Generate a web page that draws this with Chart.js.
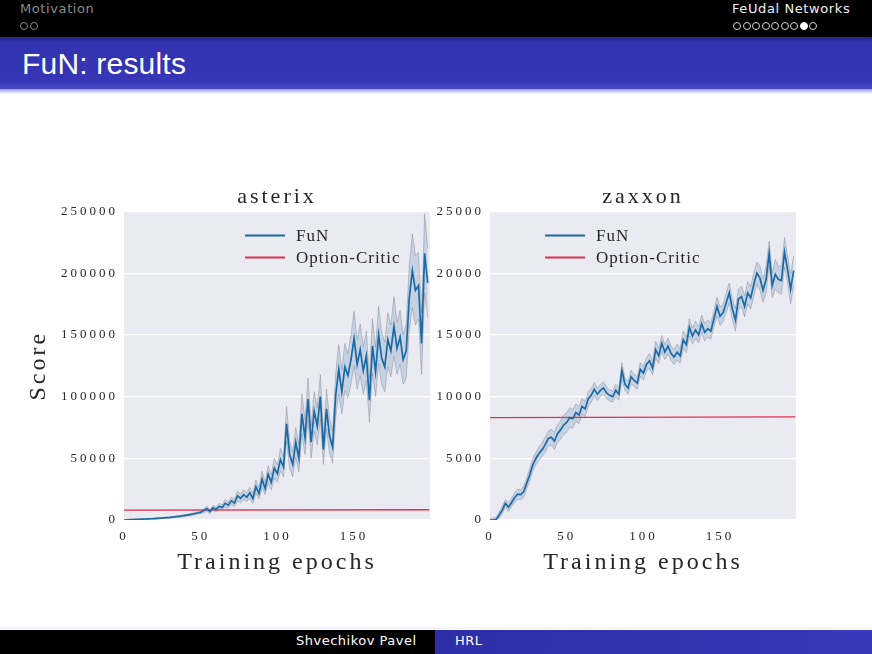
<!DOCTYPE html>
<html>
<head>
<meta charset="utf-8">
<title>FuN: results</title>
<script src="https://cdn.jsdelivr.net/npm/chart.js@4.4.1/dist/chart.umd.min.js"></script>
<style>
    html, body { margin: 0; padding: 0; }
    body {
        width: 872px; height: 654px; position: relative; overflow: hidden;
        background: #fff; font-family: "DejaVu Sans", sans-serif;
    }
    #topbar { position: absolute; left: 0; top: 0; width: 872px; height: 37px; background: #000; }
    .sec { position: absolute; top: 1px; font-size: 13px; letter-spacing: 0.6px; }
    .sec.left { left: 20px; color: #8a8a8a; }
    .sec.right { left: 732px; color: #f0f0f0; }
    .dots { position: absolute; top: 22px; height: 8px; display: flex; }
    .dots.left { left: 20px; }
    .dots.right { left: 733px; }
    .dot {
        width: 6px; height: 6px; border-radius: 50%;
        border: 1px solid #8a8a8a; margin-right: 2px; box-sizing: content-box;
    }
    .dots.right .dot { border-color: #d8d8d8; margin-right: 1.5px; }
    .dots.right .dot.on { background: #fff; border-color: #fff; }
    #titlebar {
        position: absolute; left: 0; top: 37px; width: 872px; height: 52px;
        background: linear-gradient(to bottom, #24248e 0%, #3333b0 12%, #3636b6 85%, #4a4ac4 100%);
    }
    #titleshadow {
        position: absolute; left: 0; top: 89px; width: 872px; height: 5px;
        background: linear-gradient(to bottom, #9a9ade, #ffffff);
    }
    #title {
        position: absolute; left: 22px; top: 47px; color: #fff;
        font-family: "Liberation Sans", sans-serif; font-size: 30px; letter-spacing: 0.2px;
    }
    #footer { position: absolute; left: 0; top: 630px; width: 872px; height: 24px; }
    #footer .l { position: absolute; left: 0; top: 0; width: 435px; height: 24px; background: #000; }
    #footer .r {
        position: absolute; left: 435px; top: 0; width: 437px; height: 24px;
        background: linear-gradient(to right, #2e2ea8, #3838b8);
    }
    #footer span { position: absolute; top: 3px; color: #fff; font-size: 13px; letter-spacing: 0.5px; }
    #footline { position: absolute; left: 0; top: 626px; width: 872px; height: 3px; background: linear-gradient(#fff, #eef0fa); }
    canvas { position: absolute; }
    #chart-asterix { left: 20px; top: 180px; }
    #chart-zaxxon { left: 430px; top: 180px; }
</style>
</head>
<body>
<div id="topbar">
    <div class="sec left">Motivation</div>
    <div class="dots left"><span class="dot"></span><span class="dot"></span></div>
    <div class="sec right">FeUdal Networks</div>
    <div class="dots right"><span class="dot"></span><span class="dot"></span><span class="dot"></span><span class="dot"></span><span class="dot"></span><span class="dot"></span><span class="dot"></span><span class="dot on"></span><span class="dot"></span></div>
</div>
<div id="titlebar"></div>
<div id="titleshadow"></div>
<div id="title">FuN: results</div>

<canvas id="chart-asterix" width="415" height="400"></canvas>
<canvas id="chart-zaxxon" width="375" height="400"></canvas>

<div id="footline"></div>
<div id="footer">
    <div class="l"></div>
    <div class="r"></div>
    <span style="left:296px">Shvechikov Pavel</span>
    <span style="left:455px">HRL</span>
</div>

<script>
// sampled every 2 training epochs
const epochs = Array.from({ length: 100 }, (_, i) => i * 2);

// asterix
const asterixFuN = [
    0, 150, 300, 400, 500, 600, 700, 800, 900, 1000,
    1150, 1300, 1500, 1700, 1900, 2100, 2400, 2700, 3000, 3300,
    3700, 4100, 4600, 5100, 5700, 6300, 7600, 9200, 6800, 9800,
    8600, 11000, 10200, 13500, 12000, 15500, 13800, 19500, 17500, 20500,
    18500, 22000, 17500, 27000, 21500, 33000, 25500, 37000, 30500, 42000,
    37500, 49000, 43000, 78000, 53000, 45000, 63000, 50000, 86000, 67000,
    98000, 63000, 88000, 76000, 100000, 57000, 90000, 68000, 59000, 101000,
    122000, 104000, 124000, 117000, 130000, 147000, 126000, 138000, 121000, 133000,
    97000, 141000, 120000, 150000, 131000, 124000, 146000, 137000, 157000, 139000,
    148000, 130000, 137000, 180000, 202000, 186000, 190000, 143000, 216000, 192000
];
const asterixSpread = [
    100, 100, 150, 150, 200, 200, 200, 250, 250, 300,
    300, 350, 350, 400, 400, 450, 500, 500, 550, 600,
    650, 700, 750, 800, 900, 1000, 1500, 2000, 1500, 2000,
    2000, 2500, 2000, 3000, 2500, 3000, 3000, 4000, 3500, 4000,
    3500, 4500, 4000, 5500, 4500, 6500, 5000, 7000, 6000, 8000,
    7000, 9000, 8000, 14000, 11000, 10000, 12000, 11000, 16000, 14000,
    17000, 13000, 16000, 15000, 18000, 12000, 16000, 14000, 13000, 18000,
    20000, 18000, 19000, 18000, 20000, 22000, 20000, 21000, 19000, 20000,
    18000, 22000, 20000, 23000, 21000, 20000, 22000, 21000, 24000, 21000,
    22000, 20000, 22000, 26000, 30000, 28000, 27000, 25000, 32000, 28000
];
const asterixOC = [8000, 8300];

// zaxxon
const zaxxonFuN = [
    0, 0, 50, 400, 800, 1350, 1050, 1400, 1800, 2100,
    2050, 2300, 3000, 3700, 4500, 5000, 5400, 5700, 6100, 6600,
    6700, 6400, 7000, 7300, 7700, 7900, 8300, 8200, 8700, 8500,
    9200, 9000, 9800, 10100, 10600, 10200, 10500, 10700, 10300, 10100,
    10000, 10500, 10200, 12100, 11000, 10700, 11600, 11300, 11100, 12200,
    11900, 12600, 12900, 12300, 13800, 13300, 14300, 13600, 14100, 13500,
    13200, 13600, 13300, 14600, 14200, 15600, 14900, 15400, 15000, 15900,
    15200, 15500, 15300, 16300, 17300, 16500, 16800, 17600, 18400, 17100,
    16200, 17900, 18100, 17300, 18400, 18000, 19100, 20000, 19600, 18600,
    19500, 21600, 19000, 19900, 19500, 19400, 21700, 20300, 18700, 20200
];
const zaxxonSpread = [
    100, 150, 200, 250, 300, 300, 350, 350, 400, 400,
    400, 450, 450, 500, 500, 500, 550, 550, 600, 600,
    650, 700, 700, 750, 800, 800, 800, 750, 700, 700,
    650, 600, 600, 550, 550, 500, 500, 500, 450, 450,
    450, 500, 500, 650, 500, 500, 550, 500, 500, 550,
    550, 550, 600, 550, 700, 600, 650, 600, 650, 600,
    600, 650, 600, 700, 650, 700, 650, 700, 650, 700,
    700, 700, 650, 700, 750, 750, 700, 800, 800, 850,
    900, 800, 850, 850, 900, 900, 950, 900, 1000, 950,
    1100, 1000, 1000, 1200, 1100, 1100, 1200, 1100, 1200, 1200
];
const zaxxonOC = [8300, 8350];

const ocEpochs = [0, 199];
const xTicks = [0, 50, 100, 150];

const SERIF = '"Liberation Serif", "DejaVu Serif", serif';
const TEXT = '#262626';

// seaborn-ish plot face
const plotFace = {
    id: 'plotFace',
    beforeUpdate(chart) { chart.ctx.letterSpacing = '3px'; },
    beforeDraw(chart) {
        const { ctx, chartArea: a } = chart;
        ctx.letterSpacing = '3px';
        ctx.save();
        ctx.fillStyle = '#eaeaf2';
        ctx.fillRect(a.left, a.top, a.right - a.left, a.bottom - a.top);
        ctx.restore();
    }
};

// matplotlib-style legend sitting inside the axes
const insideLegend = {
    id: 'insideLegend',
    afterDatasetsDraw(chart, args, opts) {
        const { ctx, chartArea } = chart;
        ctx.save();
        ctx.letterSpacing = '1px';
        ctx.font = '17px ' + SERIF;
        ctx.textBaseline = 'middle';
        let y = chartArea.top + opts.top;
        chart.data.datasets.filter(d => !d.band).forEach(d => {
            const x = chartArea.left + opts.left;
            ctx.strokeStyle = d.borderColor;
            ctx.lineWidth = 2;
            ctx.beginPath();
            ctx.moveTo(x, y);
            ctx.lineTo(x + 40, y);
            ctx.stroke();
            ctx.fillStyle = TEXT;
            ctx.fillText(d.label, x + 51, y + 1);
            y += 22;
        });
        ctx.restore();
    }
};

function makeChart(canvasId, title, fun, spread, oc, yMax, yStep, yTitle, yWidth, padRight, legendLeft) {
    const ctx = document.getElementById(canvasId);
    const pts = (xs, ys) => ys.map((v, i) => ({ x: xs[i], y: v }));

    return new Chart(ctx, {
        type: 'line',
        data: {
            datasets: [
                {
                    label: 'FuN',
                    data: pts(epochs, fun),
                    borderColor: '#1b6aa6',
                    borderWidth: 1.7,
                    pointRadius: 0,
                    fill: false,
                    order: 0
                },
                {
                    label: 'Option-Critic',
                    data: pts(ocEpochs, oc),
                    borderColor: '#e0304c',
                    borderWidth: 1.3,
                    pointRadius: 0,
                    fill: false,
                    order: 1
                },
                {
                    label: 'upper',
                    band: true,
                    data: pts(epochs, fun.map((v, i) => v + spread[i])),
                    borderColor: 'rgba(120,128,140,0.5)',
                    borderWidth: 0.8,
                    pointRadius: 0,
                    fill: false,
                    order: 2
                },
                {
                    label: 'lower',
                    band: true,
                    data: pts(epochs, fun.map((v, i) => Math.max(v - spread[i], 0))),
                    borderColor: 'rgba(120,128,140,0.5)',
                    borderWidth: 0.8,
                    backgroundColor: 'rgba(140,170,200,0.38)',
                    pointRadius: 0,
                    fill: '-1',
                    order: 2
                }
            ]
        },
        options: {
            responsive: false,
            animation: false,
            layout: { padding: { left: 0, right: padRight, top: 0, bottom: 0 } },
            plugins: {
                legend: { display: false },
                tooltip: { enabled: false },
                title: {
                    display: true,
                    text: title,
                    fullSize: false,
                    color: TEXT,
                    font: { family: SERIF, size: 22, weight: 'normal' },
                    padding: { top: 4, bottom: 1 }
                },
                insideLegend: { left: legendLeft, top: 24 }
            },
            scales: {
                x: {
                    type: 'linear',
                    min: 0,
                    max: 199.5,
                    afterFit: (s) => { s.height = 60; },
                    afterBuildTicks: (s) => { s.ticks = xTicks.map(v => ({ value: v })); },
                    grid: { display: false },
                    border: { display: false },
                    ticks: { color: TEXT, padding: 1, font: { family: SERIF, size: 13 }, maxRotation: 0 },
                    title: {
                        display: true,
                        text: 'Training epochs',
                        color: TEXT,
                        font: { family: SERIF, size: 24 },
                        padding: { top: 0, bottom: 3 }
                    }
                },
                y: {
                    min: 0,
                    max: yMax,
                    afterFit: (s) => { s.width = yWidth; },
                    grid: { color: '#ffffff', lineWidth: 1.2, drawTicks: false },
                    border: { display: false },
                    ticks: {
                        stepSize: yStep,
                        color: TEXT,
                        padding: 6,
                        font: { family: SERIF, size: 13 },
                        callback: (v) => String(v)
                    },
                    title: {
                        display: !!yTitle,
                        text: yTitle,
                        color: TEXT,
                        font: { family: SERIF, size: 24 },
                        padding: { top: 4, bottom: 0 }
                    }
                }
            }
        },
        plugins: [plotFace, insideLegend]
    });
}

makeChart('chart-asterix', 'asterix', asterixFuN, asterixSpread, asterixOC, 250000, 50000, 'Score', 104, 5, 121);
makeChart('chart-zaxxon', 'zaxxon', zaxxonFuN, zaxxonSpread, zaxxonOC, 25000, 5000, '', 60, 9, 55);
</script>
</body>
</html>
